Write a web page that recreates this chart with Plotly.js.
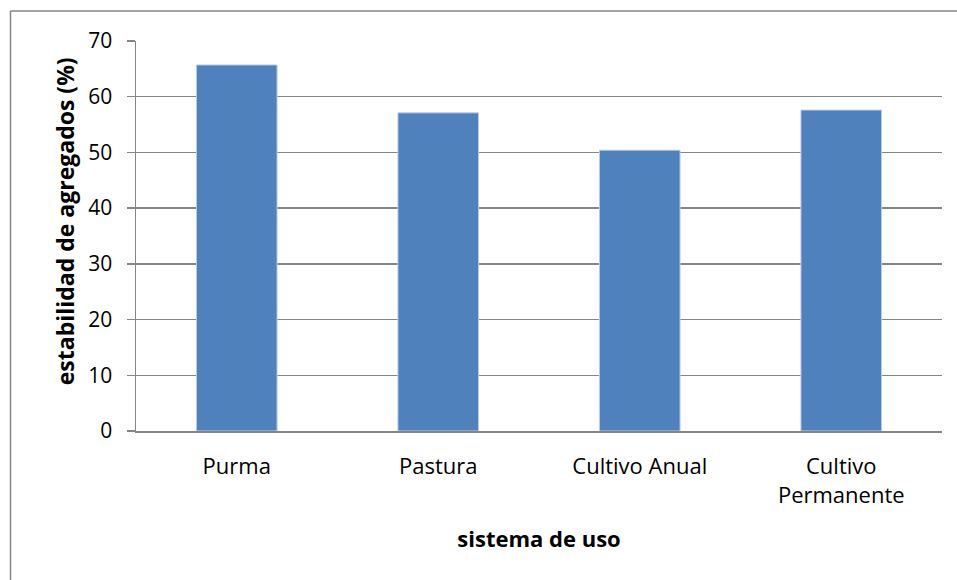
<!DOCTYPE html>
<html>
<head>
<meta charset="utf-8">
<script src="https://cdn.plot.ly/plotly-3.0.1.min.js"></script>
<style>html,body{margin:0;padding:0;background:#fff;}#chart{width:957px;height:580px;}</style>
</head>
<body>
<div id="chart"></div>
<script>
const categories = ["Purma", "Pastura", "Cultivo Anual", "Cultivo<br>Permanente"];
const values = [65.7, 57.1, 50.4, 57.6];
const yTickVals = [0, 10, 20, 30, 40, 50, 60, 70];
const xTitle = "sistema de uso";
const yTitle = "estabilidad de agregados (%)";

const FONT = "'Open Sans', sans-serif";
const GRID = "#868686";

const trace = {
  type: "bar",
  x: categories,
  y: values,
  marker: {color: "#4F81BD", line: {color: "#B9CDE5", width: 1}},
  hoverinfo: "none"
};

const layout = {
  width: 957, height: 580,
  margin: {l: 136, r: 15, t: 41, b: 149},
  paper_bgcolor: "#ffffff",
  plot_bgcolor: "#ffffff",
  showlegend: false,
  bargap: 0.6,
  font: {family: FONT, color: "#000000", size: 21},
  xaxis: {
    type: "category",
    showgrid: false,
    showline: true, linecolor: GRID, linewidth: 2,
    ticks: "", ticklabelstandoff: 15,
    tickfont: {family: FONT, size: 22},
    title: {text: "<b>" + xTitle + "</b>", font: {family: FONT, size: 22}, standoff: 24},
    fixedrange: true
  },
  yaxis: {
    range: [0, 70],
    tickvals: yTickVals,
    showgrid: true, gridcolor: GRID, gridwidth: 1.5,
    showline: true, linecolor: GRID, linewidth: 1.5,
    zeroline: false,
    ticks: "outside", ticklen: 8, tickcolor: GRID, tickwidth: 1.5,
    ticklabelstandoff: 10,
    tickfont: {family: FONT, size: 21},
    fixedrange: true
  },
  annotations: [
    {text: "<b>" + yTitle + "</b>", xref: "paper", yref: "paper", x: -0.088, y: 0.538,
     xanchor: "center", yanchor: "middle", textangle: -90, showarrow: false,
     font: {family: FONT, size: 23, color: "#000000"}}
  ],
  shapes: [
    {type: "line", xref: "paper", yref: "paper", x0: -0.1557, x1: -0.1557, y0: -0.4, y1: 1.0769,
     line: {color: "#868686", width: 1.5}, layer: "below"},
    {type: "line", xref: "paper", yref: "paper", x0: -0.1557, x1: 1.02, y0: 1.0769, y1: 1.0769,
     line: {color: "#868686", width: 1.5}, layer: "below"}
  ]
};

Plotly.newPlot("chart", [trace], layout, {displayModeBar: false, staticPlot: true});
</script>
</body>
</html>
